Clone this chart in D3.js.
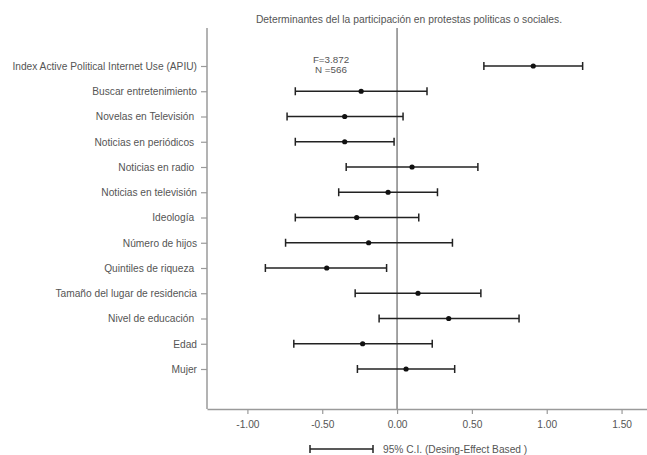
<!DOCTYPE html>
<html>
<head>
<meta charset="utf-8">
<script src="https://cdn.jsdelivr.net/npm/d3@7"></script>
<style>
  body { margin: 0; background: #fff; }
  text { font-family: "Liberation Sans", Arial, sans-serif; }
</style>
</head>
<body>
<div id="chart" style="width:647px;height:455px"></div>
<script>
// predictors, top to bottom
const categories = [
  "Index Active Political Internet Use (APIU)",
  "Buscar entretenimiento",
  "Novelas en Televisión ",
  "Noticias en periódicos ",
  "Noticias en radio ",
  "Noticias en televisión",
  "Ideología ",
  "Número de hijos",
  "Quintiles de riqueza ",
  "Tamaño del lugar de residencia",
  "Nivel de educación ",
  "Edad",
  "Mujer"
];
const estimates = [0.91, -0.24, -0.35, -0.35, 0.10, -0.06, -0.27, -0.19, -0.47, 0.14, 0.345, -0.23, 0.06];
const lower     = [0.58, -0.68, -0.735, -0.68, -0.34, -0.39, -0.68, -0.745, -0.88, -0.28, -0.12, -0.69, -0.265];
const upper     = [1.24, 0.20, 0.04, -0.02, 0.54, 0.27, 0.145, 0.37, -0.07, 0.56, 0.815, 0.235, 0.385];
const xTicks = [-1.0, -0.5, 0, 0.5, 1.0, 1.5];

const data = categories.map((c, i) => ({ name: c, est: estimates[i], lo: lower[i], hi: upper[i] }));

const width = 647, height = 455;
const svg = d3.select("#chart").append("svg")
  .attr("width", width).attr("height", height);

const plot = { left: 207, right: 647, top: 28, bottom: 409 };

const x = d3.scaleLinear().domain([-1.27, 1.67]).range([plot.left, plot.right]);
// 13 rows, padding above and below
const y = d3.scalePoint().domain(categories).range([66, 369]);

const axisGray = "#9a9a9a";
const textGray = "#555";
const fs = 10.2;

// title
svg.append("text")
  .attr("x", 409).attr("y", 23)
  .attr("text-anchor", "middle")
  .attr("font-size", 10.3)
  .attr("fill", textGray)
  .text("Determinantes del la participación en protestas politicas o sociales.");

// x axis (plain hyphen for negatives like the original)
const xAxis = svg.append("g")
  .attr("transform", `translate(0,${plot.bottom})`)
  .call(d3.axisBottom(x).tickValues(xTicks)
    .tickFormat(d => d3.format(".2f")(d).replace("−", "-"))
    .tickSize(5).tickSizeOuter(0));
xAxis.select(".domain").attr("stroke", axisGray).attr("stroke-width", 1.5);
xAxis.selectAll(".tick line").attr("stroke", axisGray).attr("stroke-width", 1.2);
xAxis.selectAll(".tick text")
  .attr("y", 12).attr("font-size", fs).attr("fill", textGray)
  .attr("font-family", "Liberation Sans, Arial, sans-serif");

// y axis
const yAxis = svg.append("g")
  .attr("transform", `translate(${plot.left},0)`)
  .call(d3.axisLeft(y).tickSize(6).tickPadding(4).tickSizeOuter(0));
yAxis.select(".domain").attr("d", `M0,${plot.top}V${plot.bottom}`)
  .attr("stroke", axisGray).attr("stroke-width", 1.5);
yAxis.selectAll(".tick line").attr("stroke", axisGray).attr("stroke-width", 1.2);
yAxis.selectAll(".tick text")
  .attr("font-size", fs).attr("fill", textGray)
  .attr("font-family", "Liberation Sans, Arial, sans-serif")
  .style("white-space", "pre");

// reference line at zero
svg.append("line")
  .attr("x1", x(0)).attr("x2", x(0))
  .attr("y1", plot.top).attr("y2", plot.bottom)
  .attr("stroke", axisGray).attr("stroke-width", 1.8);

// F / N annotation
const ann = svg.append("text")
  .attr("text-anchor", "middle").attr("font-size", 9.8).attr("fill", textGray);
ann.append("tspan").attr("x", 331).attr("y", 63).text("F=3.872");
ann.append("tspan").attr("x", 331).attr("y", 72.5).text("N =566");

// error bars
const cap = 4;
const g = svg.append("g").attr("stroke", "#222").attr("stroke-width", 1.5);
const rows = g.selectAll("g.row").data(data).enter().append("g").attr("class", "row");
rows.append("line")
  .attr("x1", d => x(d.lo)).attr("x2", d => x(d.hi))
  .attr("y1", d => y(d.name)).attr("y2", d => y(d.name));
rows.append("line")
  .attr("x1", d => x(d.lo)).attr("x2", d => x(d.lo))
  .attr("y1", d => y(d.name) - cap).attr("y2", d => y(d.name) + cap);
rows.append("line")
  .attr("x1", d => x(d.hi)).attr("x2", d => x(d.hi))
  .attr("y1", d => y(d.name) - cap).attr("y2", d => y(d.name) + cap);
rows.append("circle")
  .attr("cx", d => x(d.est)).attr("cy", d => y(d.name))
  .attr("r", 2.6).attr("fill", "#111").attr("stroke", "none");

// legend
const lg = svg.append("g").attr("stroke", "#222").attr("stroke-width", 1.5);
lg.append("line").attr("x1", 310).attr("x2", 373).attr("y1", 449).attr("y2", 449);
lg.append("line").attr("x1", 310).attr("x2", 310).attr("y1", 445).attr("y2", 453);
lg.append("line").attr("x1", 373).attr("x2", 373).attr("y1", 445).attr("y2", 453);
svg.append("text")
  .attr("x", 383).attr("y", 452.5)
  .attr("font-size", fs).attr("fill", textGray)
  .text("95% C.I. (Desing-Effect Based )");
</script>
</body>
</html>
